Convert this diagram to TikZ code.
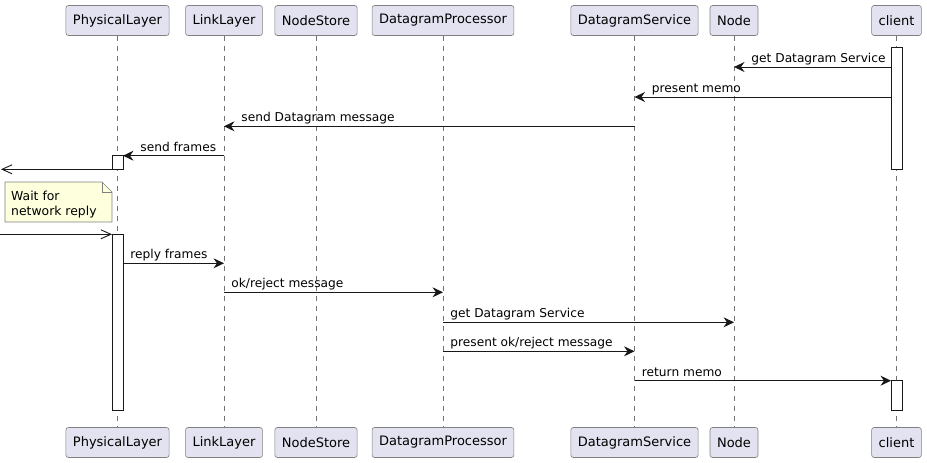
\documentclass[tikz,border=0pt]{standalone}
\usepackage{fontspec}
\setmainfont{DejaVu Sans}
\usetikzlibrary{arrows.meta,calc,positioning}
\definecolor{partfill}{HTML}{E2E2F0}
\definecolor{notefill}{HTML}{FEFFDD}
\definecolor{edgegray}{HTML}{181818}
\tikzset{
partbox/.style={
  draw=black!50,
  line width=0.6pt,
  fill=partfill,
  rounded corners=2.5pt,
  minimum height=30pt,
  inner xsep=7pt,
  font=\fontsize{13}{15}\selectfont,
  }
}
\tikzset{
actbox/.style={
  draw=edgegray,
  line width=0.9pt,
  fill=white,
  minimum width=11pt,
  inner sep=0pt,
  outer sep=0pt,
  anchor=north,
  }
}
\tikzset{
msg/.style={
  line width=0.9pt,
  draw=edgegray,
  -{Stealth[length=10.5pt,width=10pt,inset=3.5pt]}
  },
openmsg/.style={
  line width=0.9pt,
  draw=edgegray,
  -{Straight Barb[length=10pt,width=9pt]}
  },
lifeline/.style={draw=black!55, line width=0.7pt, dash pattern=on 5pt off 5pt},
lblbase/.style={anchor=base west, inner sep=0pt, yshift=4.5pt, font=\fontsize{12.2}{14}\selectfont},
lblright/.style={lblbase, xshift=7pt},
lblleft/.style={lblbase, xshift=17pt},
notebox/.style={draw=black!50, line width=0.6pt, fill=notefill},
}

\begin{document}
\begin{tikzpicture}[x=1pt,y=-1pt]
    \useasboundingbox (0,0) rectangle (927,463);

    % participants, top row
    \node[partbox] (pl) at (117.5,20.5) {PhysicalLayer};
    \node[partbox] (ll) at (224,20.5) {LinkLayer};
    \node[partbox] (ns) at (316,20.5) {NodeStore};
    \node[partbox] (dp) at (443,20.5) {DatagramProcessor};
    \node[partbox] (ds) at (634.5,20.5) {DatagramService};
    \node[partbox] (nd) at (734,20.5) {Node};
    \node[partbox] (cl) at (896.5,20.5) {client};

    % participants, bottom row
    \node[partbox] (plB) at (117.5,442.5) {PhysicalLayer};
    \node[partbox] (llB) at (224,442.5) {LinkLayer};
    \node[partbox] (nsB) at (316,442.5) {NodeStore};
    \node[partbox] (dpB) at (443,442.5) {DatagramProcessor};
    \node[partbox] (dsB) at (634.5,442.5) {DatagramService};
    \node[partbox] (ndB) at (734,442.5) {Node};
    \node[partbox] (clB) at (896.5,442.5) {client};

    % lifelines
    \draw[lifeline] (pl) -- (plB);
    \draw[lifeline] (ll) -- (llB);
    \draw[lifeline] (ns) -- (nsB);
    \draw[lifeline] (dp) -- (dpB);
    \draw[lifeline] (ds) -- (dsB);
    \draw[lifeline] (nd) -- (ndB);
    \draw[lifeline] (cl) -- (clB);

    % activations
    \node[actbox, minimum height=122pt] (clA1) at (896.5,47) {};
    \node[actbox, minimum height=13.6pt] (plA1) at (117.5,155.7) {};
    \node[actbox, minimum height=176pt] (plA2) at (117.5,234.3) {};
    \node[actbox, minimum height=29.5pt] (clA2) at (896.5,380.7) {};

    % message rows
    \coordinate (r1) at (0,67);
    \coordinate (r2) at (0,97);
    \coordinate (r3) at (0,126.3);
    \coordinate (r7) at (0,263.3);
    \coordinate (r8) at (0,292.3);
    \coordinate (r9) at (0,322.3);
    \coordinate (r10) at (0,351.3);
    \coordinate (lost) at (1,169.3);
    \coordinate (found) at (0,234.3);

    % request edges
    \draw[msg] (clA1.west |- r1) -- (nd |- r1) node[pos=1, lblleft] (m1) {get Datagram Service};
    \draw[msg] (clA1.west |- r2) -- (ds |- r2) node[pos=1, lblleft] (m2) {present memo};
    \draw[msg] (ds |- r3) -- (ll |- r3) node[pos=1, lblleft] (m3) {send Datagram message};
    \draw[msg] (ll |- plA1.north) -- (plA1.north east) node[pos=1, lblleft] (m4) {send frames};
    \draw[openmsg] (plA1.south west) -- (lost);

    % network note
    \path[notebox] (5,182) -- (102,182) -- (112,192) -- (112,222) -- (5,222) -- cycle;
    \draw[notebox, fill=none] (102,182) -- (102,192) -- (112,192);
    \node[anchor=north west, inner sep=0pt, align=left, font=\fontsize{12.4}{15.5}\selectfont] (wait) at (11,190.5) {Wait for\\network reply};

    % reply edges
    \draw[openmsg] (found) -- (plA2.north west);
    \draw[msg] (plA2.east |- r7) -- (ll |- r7) node[pos=0, lblright] (m7) {reply frames};
    \draw[msg] (ll |- r8) -- (dp |- r8) node[pos=0, lblright] (m8) {ok/reject message};
    \draw[msg] (dp |- r9) -- (nd |- r9) node[pos=0, lblright] (m9) {get Datagram Service};
    \draw[msg] (dp |- r10) -- (ds |- r10) node[pos=0, lblright] (m10) {present ok/reject message};
    \draw[msg] (ds |- clA2.north) -- (clA2.north west) node[pos=0, lblright] (m11) {return memo};
\end{tikzpicture}
\end{document}
